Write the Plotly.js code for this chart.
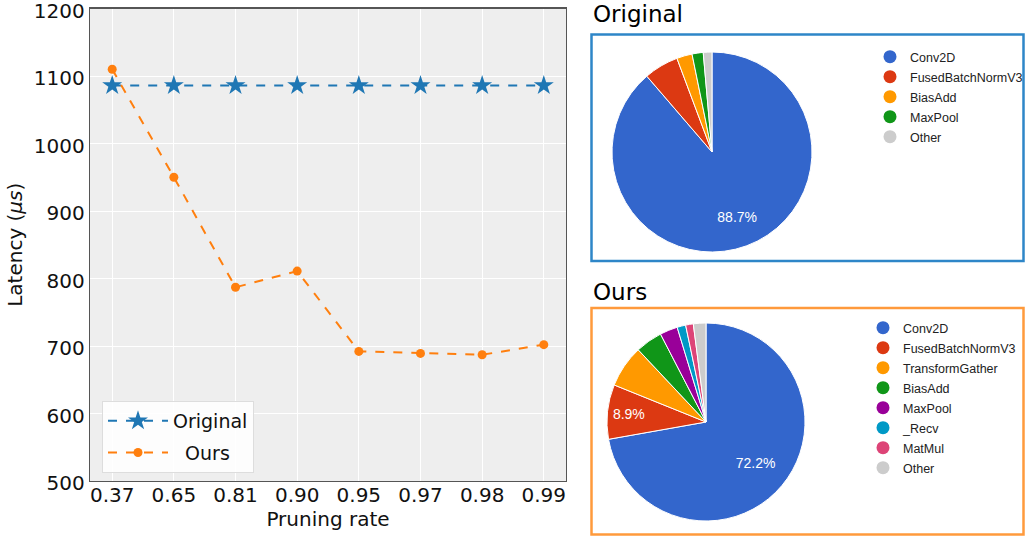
<!DOCTYPE html>
<html>
<head>
<meta charset="utf-8">
<script src="https://cdn.plot.ly/plotly-3.0.1.min.js"></script>
<style>
  html, body { margin: 0; padding: 0; background: #ffffff; overflow: hidden; width: 1025px; height: 536px; }
  #chart { width: 1025px; height: 536px; overflow: hidden; }
</style>
</head>
<body>
<div id="chart"></div>
<script>
// ---- Data ----
const pruningRates = ['0.37', '0.65', '0.81', '0.90', '0.95', '0.97', '0.98', '0.99'];
const latencyOriginal = [1086, 1086, 1086, 1086, 1086, 1086, 1086, 1086];
const latencyOurs = [1110, 950, 787, 811, 692, 689, 687, 702];

const originalOps = ['Conv2D', 'FusedBatchNormV3', 'BiasAdd', 'MaxPool', 'Other'];
const originalShare = [88.7, 5.6, 2.5, 1.8, 1.4];

const oursOps = ['Conv2D', 'FusedBatchNormV3', 'TransformGather', 'BiasAdd', 'MaxPool', '_Recv', 'MatMul', 'Other'];
const oursShare = [72.2, 8.9, 6.9, 4.4, 2.9, 1.4, 1.25, 2.05];

// ---- Styles ----
const W = 1025, H = 536;
const px = v => v / W;
const py = v => 1 - v / H;
const opColors = {
  'Conv2D': '#3366cc', 'FusedBatchNormV3': '#dc3912', 'TransformGather': '#ff9900',
  'BiasAdd': '#109618', 'MaxPool': '#990099', '_Recv': '#0099c6', 'MatMul': '#dd4477',
  'Other': '#cccccc'
};
const origColors = ['#3366cc', '#dc3912', '#ff9900', '#109618', '#cccccc'];
const oursColors = oursOps.map(o => opColors[o]);

// percentage labels for slices large enough to hold them;
// padLines / padSpaces nudge the label outward like the reference renderer does
const NB = '\u00a0';
function sliceText(vals, padLines, padSpaces) {
  const tot = vals.reduce((a, b) => a + b, 0);
  return vals.map((v, i) => {
    if (v / tot < 0.08) return '';
    const lbl = (100 * v / tot).toFixed(1) + '%';
    const pre = (NB + '<br>').repeat(padLines[i] || 0);
    return pre + NB.repeat(padSpaces[i] || 0) + lbl;
  });
}

const mplFont = 'DejaVu Sans, sans-serif';
const gFont = 'Liberation Sans, Arial, sans-serif';

const traces = [
  {
    type: 'scatter', mode: 'lines+markers', name: 'Original',
    x: pruningRates, y: latencyOriginal,
    line: { color: '#1f77b4', width: 2, dash: 'dash' },
    marker: { symbol: 'star', size: 15, color: '#1f77b4' },
    legendgroup: 'a', legend: 'legend'
  },
  {
    type: 'scatter', mode: 'lines+markers', name: NB + NB + 'Ours',
    x: pruningRates, y: latencyOurs,
    line: { color: '#ff7f0e', width: 2, dash: 'dash' },
    marker: { symbol: 'circle', size: 9, color: '#ff7f0e' },
    legendgroup: 'b', legend: 'legend'
  },
  {
    type: 'pie', labels: originalOps, values: originalShare, sort: false,
    direction: 'clockwise', rotation: 0,
    marker: { colors: origColors, line: { color: '#ffffff', width: 1 } },
    text: sliceText(originalShare, [2], [4]), textinfo: 'text', textposition: 'inside',
    insidetextorientation: 'horizontal',
    textfont: { family: gFont, size: 14, color: '#ffffff' },
    domain: { x: [px(612), px(812)], y: [py(252), py(52)] },
    showlegend: false, hoverinfo: 'label+percent'
  },
  {
    type: 'pie', labels: oursOps, values: oursShare, sort: false,
    direction: 'clockwise', rotation: 0,
    marker: { colors: oursColors, line: { color: '#ffffff', width: 1 } },
    text: sliceText(oursShare, [1, 0], [6, 0]), textinfo: 'text', textposition: 'inside',
    insidetextorientation: 'horizontal',
    textfont: { family: gFont, size: 14, color: '#ffffff' },
    domain: { x: [px(607), px(805)], y: [py(521), py(323)] },
    showlegend: false, hoverinfo: 'label+percent'
  }
];

// legend entries (circle markers) for the pie charts
originalOps.forEach((op, i) => {
  traces.push({
    type: 'scatter', mode: 'markers', name: op, x: [null], y: [null],
    marker: { symbol: 'circle', size: 13, color: origColors[i] },
    legend: 'legend2', legendgroup: 'o' + i, showlegend: true, hoverinfo: 'skip'
  });
});
oursOps.forEach((op, i) => {
  traces.push({
    type: 'scatter', mode: 'markers', name: op, x: [null], y: [null],
    marker: { symbol: 'circle', size: 13, color: oursColors[i] },
    legend: 'legend3', legendgroup: 'u' + i, showlegend: true, hoverinfo: 'skip'
  });
});

const layout = {
  width: W, height: H, autosize: false,
  margin: { l: 0, r: 0, t: 0, b: 0, pad: 0, autoexpand: false },
  paper_bgcolor: '#ffffff',
  plot_bgcolor: '#eeeeee',
  font: { family: mplFont, color: '#000000' },
  xaxis: {
    domain: [px(90), px(566)],
    type: 'category',
    range: [-0.36, 7.36],
    showgrid: true, gridcolor: '#ffffff', gridwidth: 1,
    showline: true, linecolor: '#555555', linewidth: 1.3, mirror: true,
    ticks: '', zeroline: false,
    tickfont: { family: mplFont, size: 20, color: '#111111' },
    ticklabelstandoff: -4,
    title: { text: 'Pruning rate', font: { family: mplFont, size: 20, color: '#111111' }, standoff: 0 },
    automargin: false, fixedrange: true
  },
  yaxis: {
    domain: [py(481), py(8.5)],
    range: [500, 1200],
    dtick: 100,
    showgrid: true, gridcolor: '#ffffff', gridwidth: 1,
    showline: true, linecolor: '#555555', linewidth: 1.3, mirror: true,
    ticks: '', zeroline: false,
    ticklabeloverflow: 'allow',
    ticklabelshift: 2,
    tickfont: { family: mplFont, size: 20, color: '#111111' },
    title: { text: 'Latency (<i>\u03bcs</i>)', font: { family: mplFont, size: 20, color: '#111111' }, standoff: 5 },
    automargin: false, fixedrange: true
  },
  legend: {
    x: px(102), y: py(401), xanchor: 'left', yanchor: 'top',
    bgcolor: 'rgba(255,255,255,0.85)', bordercolor: '#dddddd', borderwidth: 1,
    font: { family: mplFont, size: 19, color: '#111111' },
    traceorder: 'grouped', tracegroupgap: 4, itemwidth: 60
  },
  legend2: {
    x: px(870), y: py(42), xanchor: 'left', yanchor: 'top',
    bgcolor: 'rgba(0,0,0,0)', borderwidth: 0,
    traceorder: 'grouped', tracegroupgap: 0.75,
    font: { family: gFont, size: 12.5, color: '#222222' }
  },
  legend3: {
    x: px(863), y: py(313), xanchor: 'left', yanchor: 'top',
    bgcolor: 'rgba(0,0,0,0)', borderwidth: 0,
    traceorder: 'grouped', tracegroupgap: 0.75,
    font: { family: gFont, size: 12.5, color: '#222222' }
  },
  shapes: [
    { type: 'rect', xref: 'paper', yref: 'paper', x0: px(591.5), x1: px(1023.5), y0: py(261), y1: py(34.5),
      line: { color: '#2e86c8', width: 2.5 }, fillcolor: 'rgba(0,0,0,0)', layer: 'below' },
    { type: 'rect', xref: 'paper', yref: 'paper', x0: px(591.5), x1: px(1023.5), y0: py(534.5), y1: py(308),
      line: { color: '#ff9a3c', width: 2.5 }, fillcolor: 'rgba(0,0,0,0)', layer: 'below' }
  ],
  annotations: [
    { text: 'Original', xref: 'paper', yref: 'paper', x: px(591), y: py(14), xanchor: 'left', yanchor: 'middle',
      showarrow: false, font: { family: mplFont, size: 23, color: '#000000' } },
    { text: 'Ours', xref: 'paper', yref: 'paper', x: px(591), y: py(292), xanchor: 'left', yanchor: 'middle',
      showarrow: false, font: { family: mplFont, size: 23, color: '#000000' } }
  ]
};

Plotly.newPlot('chart', traces, layout, { displayModeBar: false, staticPlot: true });
</script>
</body>
</html>
